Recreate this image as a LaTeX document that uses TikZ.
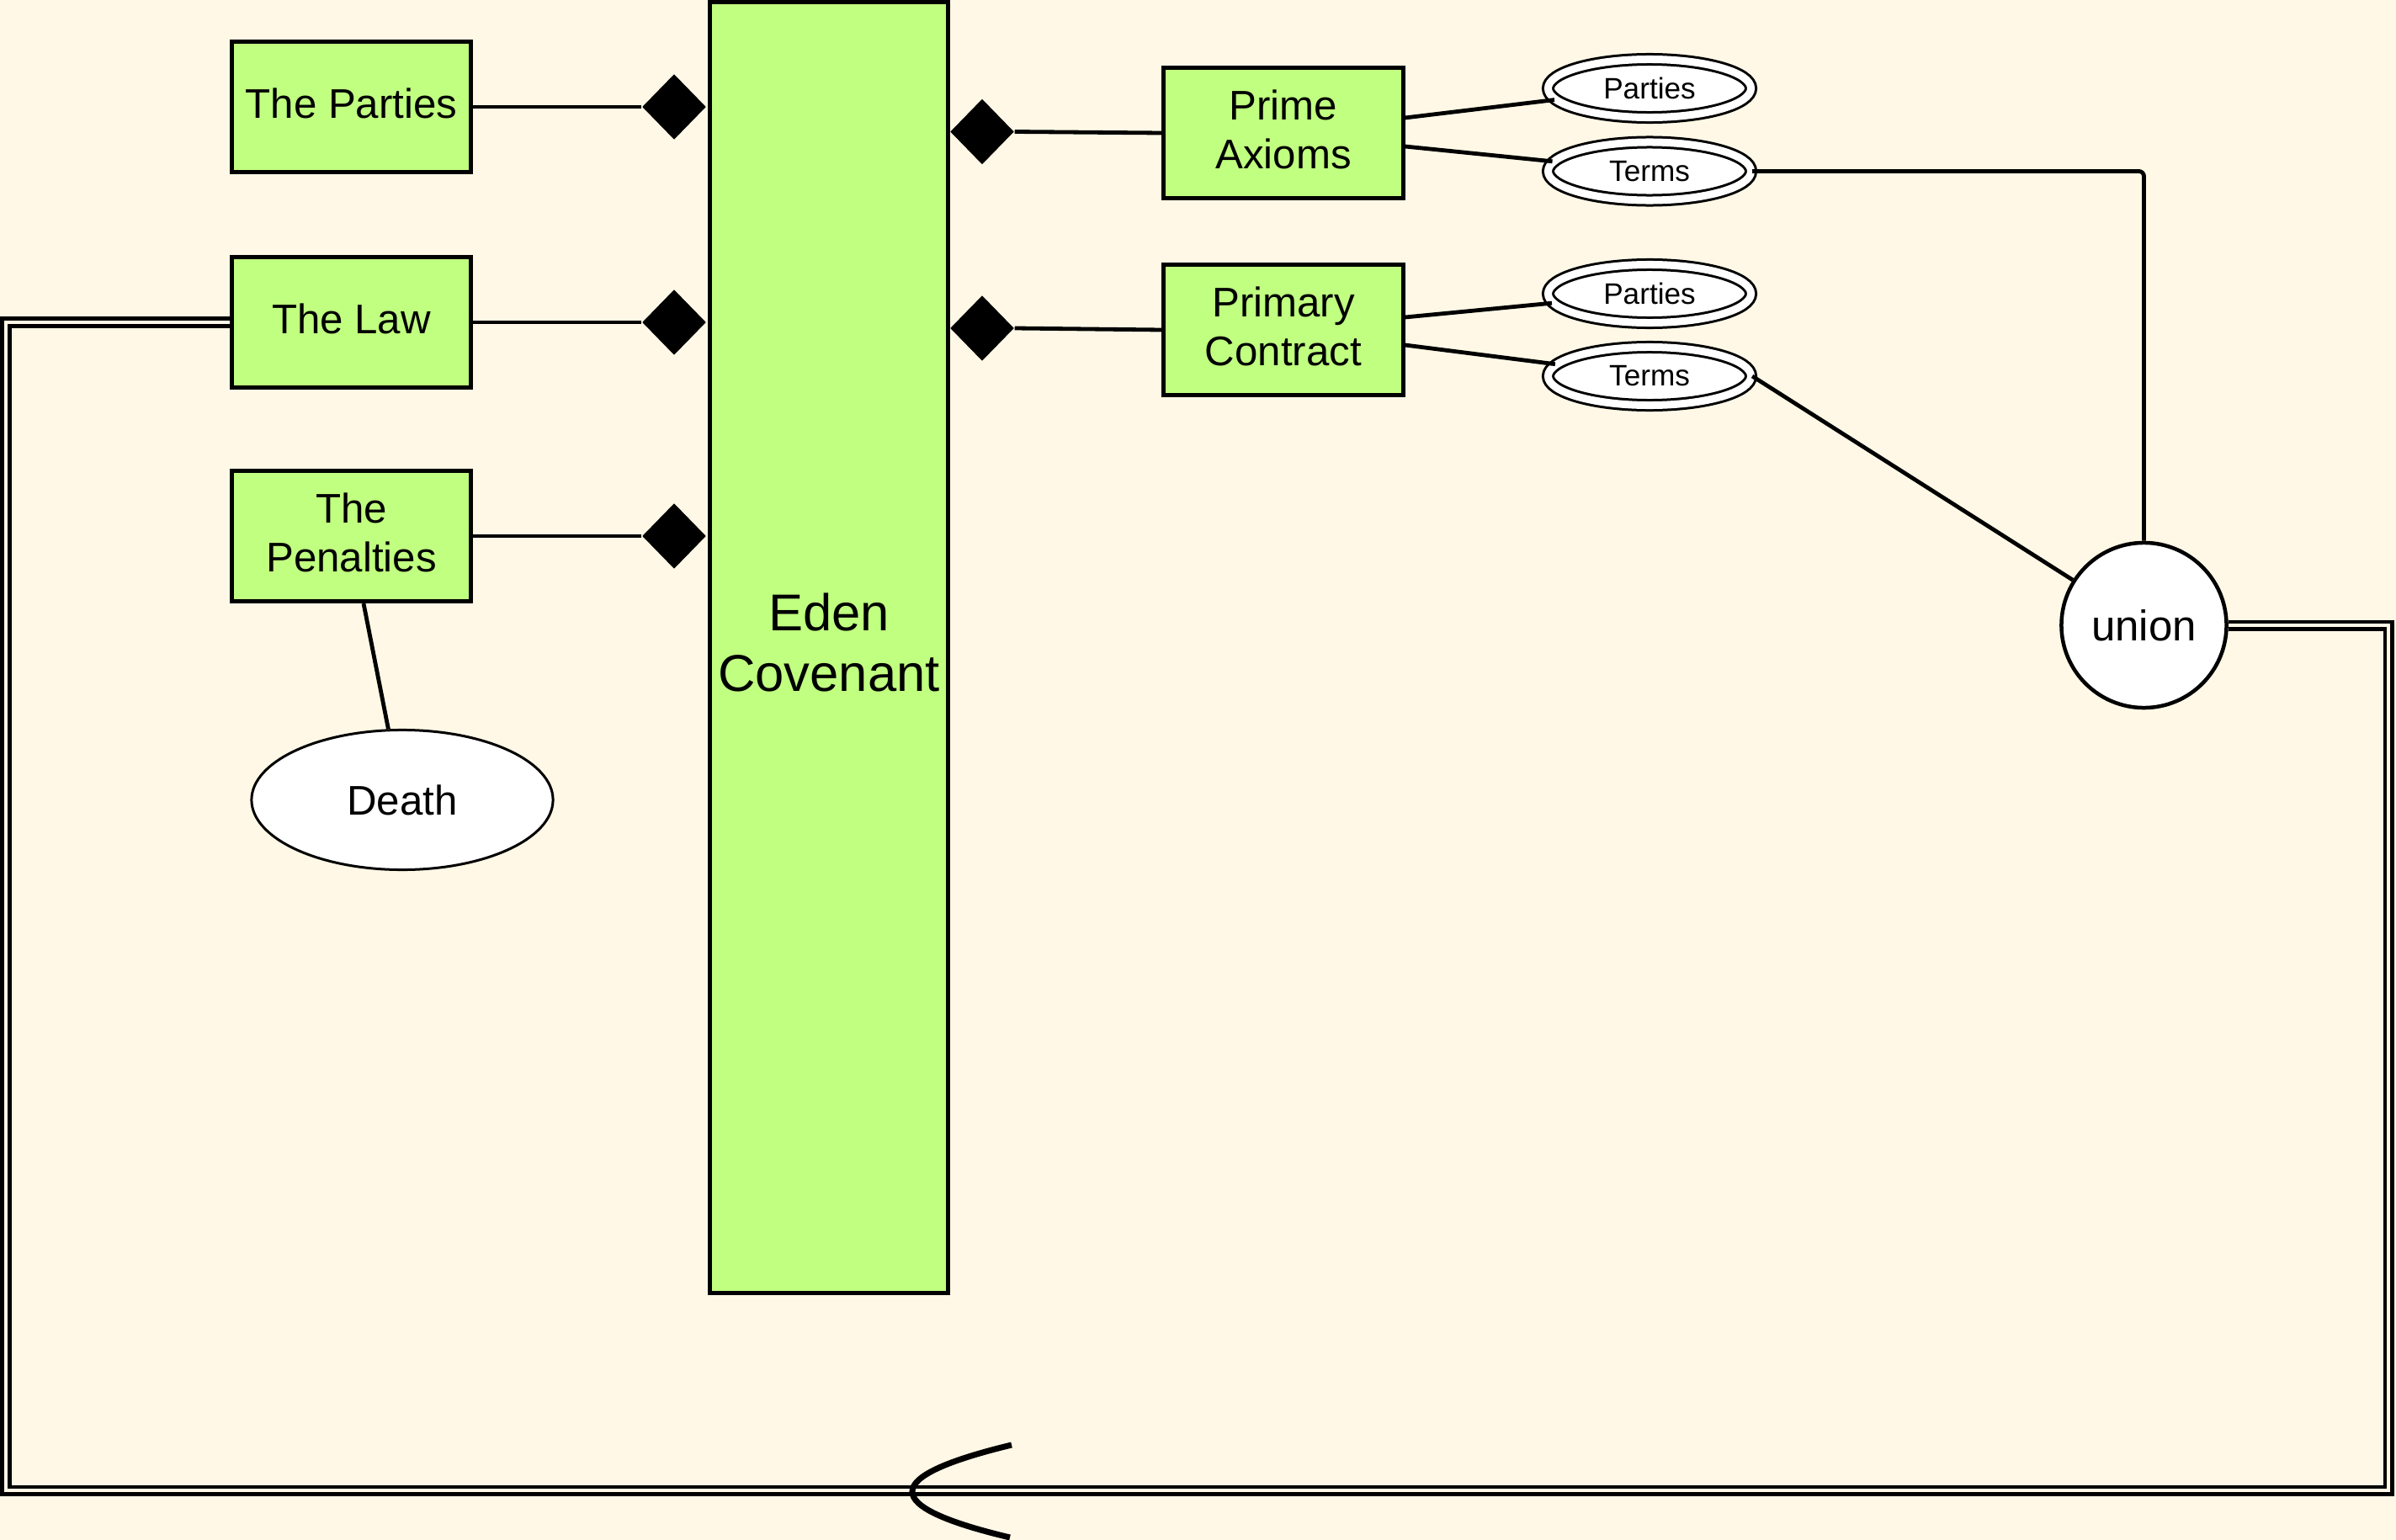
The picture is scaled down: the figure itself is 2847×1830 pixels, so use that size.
\documentclass[tikz,border=0pt]{standalone}
\usepackage{fontspec}
\setmainfont{Liberation Sans}
\usetikzlibrary{shapes.geometric}
\definecolor{bg}{RGB}{255,248,230}
\definecolor{boxgreen}{RGB}{192,255,128}
\begin{document}
\begin{tikzpicture}[x=0.01cm,y=-0.01cm,
  greenbox/.style={draw,fill=boxgreen,line width=0.05cm,minimum width=2.84cm,minimum height=1.55cm,inner sep=0pt,align=center,text depth=0.09cm,font=\fontsize{14pt}{16.5pt}\selectfont},
  dmd/.style={shape=diamond,fill=black,draw=none,inner sep=0pt,minimum width=0.76cm,minimum height=0.78cm},
  conn/.style={line width=0.048cm},
  dellipse/.style={shape=ellipse,draw,fill=white,double=white,line width=0.03cm,double distance=0.09cm,minimum width=2.41cm,minimum height=0.69cm,inner sep=0pt,font=\fontsize{10pt}{12pt}\selectfont},
  dbl/.style={draw,line width=0.045cm,double=bg,double distance=0.04cm}]
\useasboundingbox[fill=bg] (0,0) rectangle (2847,1830);
% left boxes
\node[greenbox] (parties) at (417.5,127) {The Parties};
\node[greenbox] (law) at (417.5,383) {The Law};
\node[greenbox] (pen) at (417.5,637) {The\\Penalties};
% Eden
\node[greenbox,minimum width=2.83cm,minimum height=15.33cm,text depth=0.13cm,font=\fontsize{17.5pt}{20.5pt}\selectfont] (eden) at (985,769.5) {Eden\\Covenant};
% diamonds left
\node[dmd] (d1) at (801,127) {};
\node[dmd] (d2) at (801,383) {};
\node[dmd] (d3) at (801,637) {};
% diamonds right
\node[dmd] (d4) at (1167,156.5) {};
\node[dmd] (d5) at (1167,390) {};
% right boxes
\node[greenbox] (prime) at (1525,158) {Prime\\Axioms};
\node[greenbox] (primary) at (1525,392) {Primary\\Contract};
% ellipses
\node[dellipse] (p1) at (1960,105) {Parties};
\node[dellipse] (t1) at (1960,203.5) {Terms};
\node[dellipse] (p2) at (1960,349) {Parties};
\node[dellipse] (t2) at (1960,447) {Terms};
% union
\node[circle,draw,fill=white,line width=0.045cm,minimum size=1.96cm,inner sep=0pt,font=\fontsize{14.5pt}{17pt}\selectfont] (union) at (2547.5,743) {union};
% death
\node[ellipse,draw,fill=white,line width=0.03cm,minimum width=3.58cm,minimum height=1.66cm,inner sep=0pt,font=\fontsize{14pt}{16.5pt}\selectfont] (death) at (478,950.5) {Death};
% connectors
\draw[conn] (parties.east) -- (d1.west);
\draw[conn] (law.east) -- (d2.west);
\draw[conn] (pen.east) -- (d3.west);
\draw[conn] (d4.east) -- (prime.west);
\draw[conn] (d5.east) -- (primary.west);
\draw[conn] ([yshift=0.18cm]prime.east) -- (p1);
\draw[conn] ([yshift=-0.16cm]prime.east) -- (t1);
\draw[conn] ([yshift=0.15cm]primary.east) -- (p2);
\draw[conn] ([yshift=-0.18cm]primary.east) -- (t2);
\draw[conn,rounded corners=0.06cm] (t1.east) -| (union.north);
\draw[conn] (t2.east) -- (union);
\draw[conn] ([xshift=0.145cm]pen.south) -- (death);
% double feedback line
\coordinate (c1) at (7,383);
\coordinate (c2) at (7,1771);
\coordinate (c3) at (2838,1771);
\coordinate (c4) at (2838,743);
\draw[dbl] (law.west) -- (c1) -- (c2) -- (c3) -- (c4) -- (union.east);
% arc on bottom line
\coordinate (a1) at (1202,1717);
\coordinate (a2) at (1200,1827);
\draw[line width=0.07cm] (a1) .. controls (1045,1755) and (1045,1790) .. (a2);
\end{tikzpicture}
\end{document}
